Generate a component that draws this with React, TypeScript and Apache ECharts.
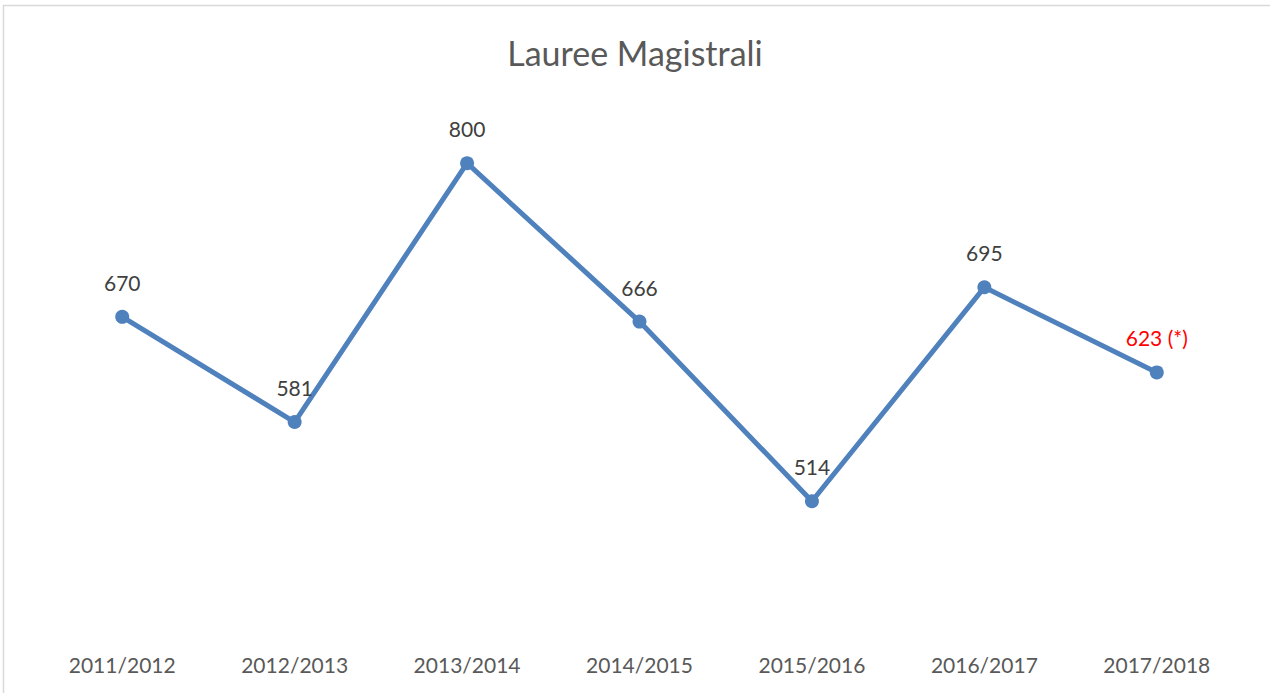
import React, { useEffect, useRef } from "react";
import * as echarts from "echarts";

const categories = ["2011/2012", "2012/2013", "2013/2014", "2014/2015", "2015/2016", "2016/2017", "2017/2018"];
const values = [670, 581, 800, 666, 514, 695, 623];
const labelTexts = ["670", "581", "800", "666", "514", "695", "623 (*)"];
const labelColors = ["#404040", "#404040", "#404040", "#404040", "#404040", "#404040", "#ff0000"];
const title = "Lauree Magistrali";

export default function App() {
  const ref = useRef<HTMLDivElement>(null);
  useEffect(() => {
    const chart = echarts.init(ref.current!, null, { renderer: "svg" });
    chart.setOption({
      animation: false,
      backgroundColor: "#ffffff",
      title: {
        text: title,
        left: "center",
        top: 30,
        textStyle: { fontFamily: "Lato", fontSize: 34, fontWeight: "normal", color: "#595959" },
      },
      graphic: [
        {
          type: "rect",
          shape: { x: 3.5, y: 5.5, width: 1280, height: 700 },
          style: { fill: "none", stroke: "#d9d9d9", lineWidth: 1.5 },
          silent: true,
        },
      ],
      grid: { left: 36, right: 27, top: 45, bottom: 57 },
      xAxis: {
        type: "category",
        data: categories,
        boundaryGap: true,
        axisLine: { show: false },
        axisTick: { show: false },
        axisLabel: { fontFamily: "Lato", fontSize: 21, color: "#595959", margin: 18 },
      },
      yAxis: {
        type: "value",
        min: 400,
        max: 900,
        show: false,
        splitLine: { show: false },
      },
      series: [
        {
          type: "line",
          data: values.map((v, i) => ({
            value: v,
            label: { formatter: labelTexts[i], color: labelColors[i] },
          })),
          lineStyle: { color: "#4f81bd", width: 5 },
          itemStyle: { color: "#4f81bd" },
          symbol: "circle",
          symbolSize: 14,
          label: {
            show: true,
            position: "top",
            distance: 17,
            fontFamily: "Lato",
            fontSize: 21,
          },
        },
      ],
    });
    return () => chart.dispose();
  }, []);
  return <div ref={ref} style={{ position: "fixed", left: 0, top: 0, width: 1270, height: 693 }} />;
}
